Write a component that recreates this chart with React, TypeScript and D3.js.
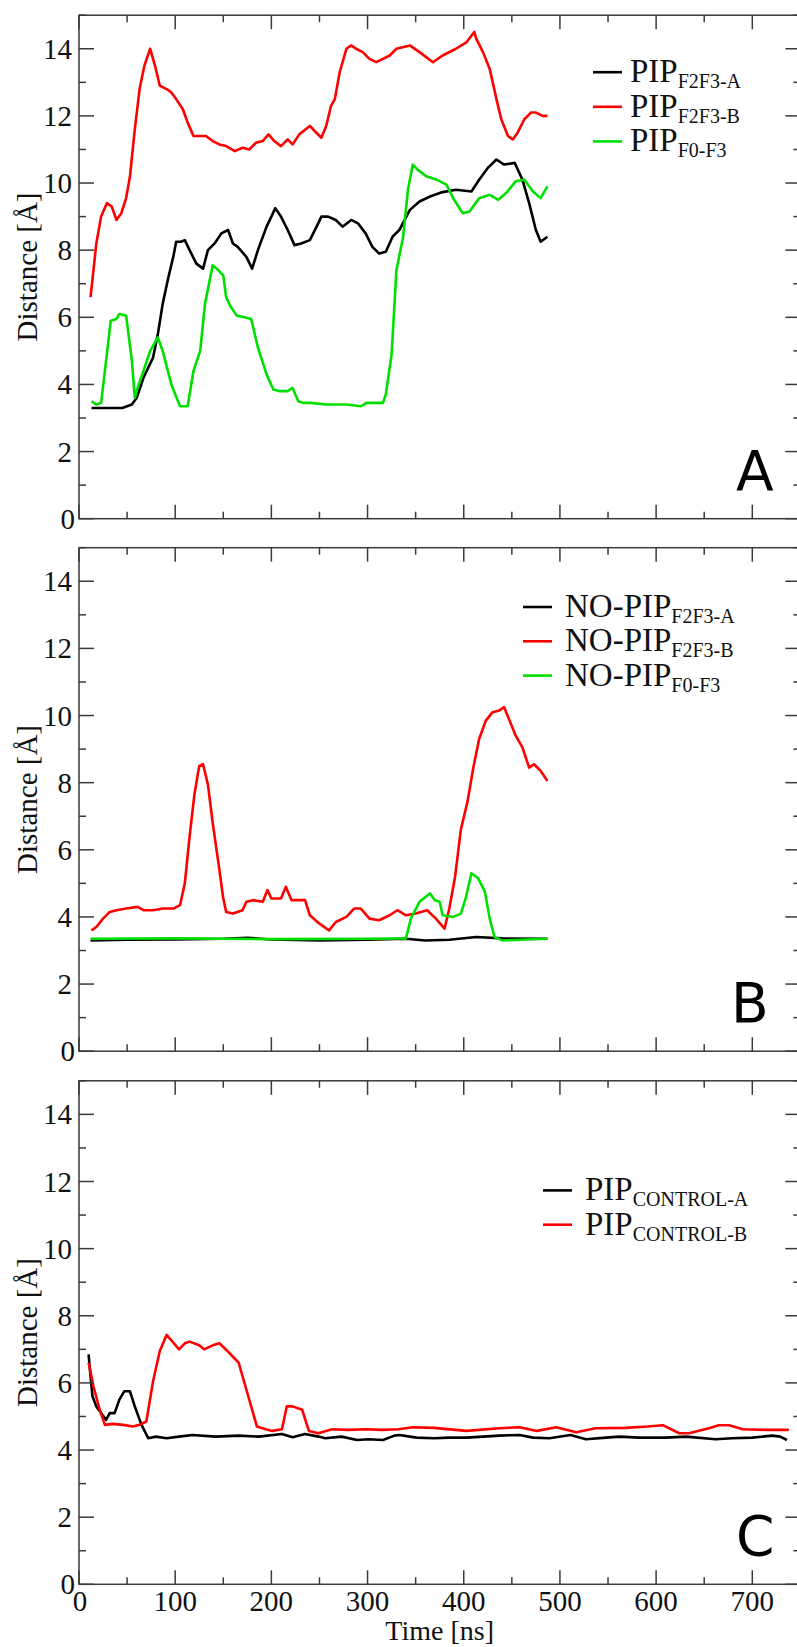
import React from 'react';
import * as d3 from 'd3';

// distance traces, [time ns, distance Å]
const pipF2F3A = [
  [13, 3.3], [30, 3.3], [45, 3.3], [55, 3.4], [60, 3.6], [67, 4.2], [77, 4.8], [82, 5.5], [87, 6.4], [93, 7.2],
  [98, 7.8], [101, 8.25], [106, 8.25], [110, 8.3], [115, 8.0], [122, 7.6], [129, 7.45], [134, 8.0], [141, 8.2],
  [148, 8.5], [155, 8.6], [160, 8.2], [165, 8.1], [174, 7.8], [180, 7.45], [186, 8.0], [195, 8.7], [200, 9.0],
  [204, 9.25], [210, 9.0], [217, 8.6], [224, 8.15], [231, 8.2], [240, 8.3], [247, 8.7], [252, 9.0], [259, 9.0],
  [267, 8.9], [274, 8.7], [283, 8.9], [290, 8.8], [298, 8.5], [305, 8.1], [312, 7.9], [319, 7.95], [326, 8.4],
  [333, 8.6], [344, 9.2], [354, 9.45], [365, 9.6], [378, 9.73], [392, 9.8], [408, 9.75], [416, 10.1], [425, 10.45],
  [434, 10.7], [442, 10.55], [453, 10.6], [461, 10.1], [468, 9.4], [475, 8.6], [480, 8.25], [487, 8.4]
];
const pipF2F3B = [
  [12, 6.6], [18, 8.2], [23, 9.0], [29, 9.4], [34, 9.3], [39, 8.9], [44, 9.1], [49, 9.55], [53, 10.2], [58, 11.6],
  [63, 12.8], [68, 13.5], [74, 14.0], [79, 13.5], [84, 12.9], [91, 12.8], [96, 12.7], [101, 12.5], [108, 12.2],
  [113, 11.8], [119, 11.4], [126, 11.4], [132, 11.4], [139, 11.25], [146, 11.15], [153, 11.1], [162, 10.95],
  [170, 11.05], [177, 11.0], [184, 11.2], [191, 11.25], [197, 11.45], [203, 11.25], [210, 11.1], [217, 11.3],
  [222, 11.15], [229, 11.45], [240, 11.7], [245, 11.55], [252, 11.35], [257, 11.7], [262, 12.3], [266, 12.5],
  [271, 13.3], [278, 14.0], [283, 14.1], [288, 14.0], [295, 13.9], [302, 13.7], [309, 13.6], [316, 13.7],
  [323, 13.8], [330, 14.0], [344, 14.1], [354, 13.9], [368, 13.6], [378, 13.8], [392, 14.0], [403, 14.2],
  [411, 14.5], [413, 14.3], [420, 13.9], [427, 13.4], [434, 12.5], [439, 11.9], [446, 11.4], [451, 11.3],
  [456, 11.5], [463, 11.9], [470, 12.1], [475, 12.1], [482, 12.0], [487, 12.0]
];
const pipF0F3 = [
  [13, 3.5], [18, 3.4], [23, 3.45], [29, 4.9], [33, 5.9], [39, 5.95], [42, 6.1], [49, 6.05], [55, 4.7], [58, 3.6],
  [61, 3.9], [67, 4.4], [74, 5.0], [82, 5.4], [87, 5.0], [96, 4.0], [105, 3.35], [113, 3.35], [119, 4.4], [126, 5.0],
  [131, 6.4], [139, 7.55], [145, 7.4], [150, 7.25], [153, 6.6], [157, 6.35], [164, 6.05], [172, 6.0], [179, 5.95],
  [186, 5.1], [195, 4.3], [202, 3.85], [209, 3.8], [217, 3.8], [222, 3.9], [228, 3.5], [233, 3.45], [241, 3.45],
  [257, 3.4], [278, 3.4], [293, 3.35], [299, 3.45], [316, 3.45], [319, 3.7], [325, 4.9], [330, 7.4], [337, 8.4],
  [342, 9.8], [347, 10.55], [352, 10.4], [361, 10.2], [372, 10.1], [382, 9.95], [390, 9.5], [399, 9.1], [406, 9.15],
  [416, 9.55], [427, 9.65], [436, 9.5], [444, 9.7], [454, 10.05], [463, 10.1], [472, 9.75], [480, 9.55], [487, 9.9]
];

const noPipF2F3A = [
  [12, 3.3], [50, 3.32], [100, 3.33], [150, 3.35], [175, 3.38], [200, 3.33], [250, 3.3], [300, 3.32], [340, 3.35],
  [360, 3.3], [385, 3.32], [413, 3.4], [440, 3.36], [487, 3.35]
];
const noPipF2F3B = [
  [13, 3.6], [18, 3.7], [25, 3.95], [32, 4.15], [39, 4.2], [49, 4.25], [61, 4.3], [67, 4.2], [77, 4.2], [87, 4.25],
  [98, 4.25], [105, 4.35], [110, 5.0], [115, 6.4], [120, 7.65], [125, 8.5], [129, 8.55], [134, 7.95], [139, 6.8],
  [145, 5.6], [150, 4.55], [153, 4.15], [160, 4.1], [170, 4.2], [174, 4.45], [181, 4.5], [191, 4.45], [196, 4.8],
  [200, 4.55], [210, 4.55], [215, 4.9], [221, 4.5], [235, 4.5], [240, 4.05], [250, 3.8], [260, 3.6], [267, 3.85],
  [278, 4.0], [286, 4.25], [293, 4.25], [302, 3.95], [312, 3.9], [323, 4.05], [331, 4.2], [340, 4.05], [350, 4.1],
  [362, 4.2], [371, 3.95], [380, 3.65], [385, 4.25], [391, 5.2], [397, 6.6], [404, 7.45], [410, 8.45], [416, 9.3],
  [423, 9.85], [430, 10.1], [437, 10.15], [442, 10.25], [447, 9.9], [454, 9.4], [461, 9.05], [468, 8.45],
  [473, 8.55], [480, 8.35], [487, 8.05]
];
const noPipF0F3 = [
  [12, 3.35], [100, 3.36], [200, 3.34], [300, 3.35], [340, 3.36], [345, 3.95], [354, 4.45], [365, 4.7], [370, 4.5],
  [375, 4.45], [378, 4.05], [389, 4.0], [397, 4.1], [402, 4.55], [408, 5.3], [415, 5.15], [422, 4.75], [427, 3.95],
  [432, 3.4], [440, 3.3], [487, 3.35]
];

const controlA = [
  [10, 6.85], [11, 6.5], [14, 5.6], [18, 5.3], [23, 5.1], [28, 4.9], [32, 5.1], [37, 5.1], [42, 5.5], [47, 5.75],
  [53, 5.75], [58, 5.3], [65, 4.75], [72, 4.35], [80, 4.4], [91, 4.35], [104, 4.4], [118, 4.45], [142, 4.4],
  [166, 4.43], [187, 4.4], [211, 4.48], [222, 4.38], [235, 4.48], [249, 4.4], [256, 4.35], [273, 4.4], [289, 4.3],
  [301, 4.32], [316, 4.3], [328, 4.43], [333, 4.45], [351, 4.37], [369, 4.35], [385, 4.37], [403, 4.37], [420, 4.4],
  [437, 4.43], [458, 4.45], [472, 4.37], [489, 4.35], [511, 4.45], [527, 4.32], [548, 4.37], [562, 4.4], [582, 4.37],
  [610, 4.37], [631, 4.4], [662, 4.32], [679, 4.35], [700, 4.37], [721, 4.43], [729, 4.4], [736, 4.3]
];
const controlB = [
  [10, 6.6], [15, 5.9], [22, 5.15], [27, 4.75], [35, 4.78], [46, 4.75], [56, 4.7], [63, 4.75], [70, 4.85], [77, 6.05],
  [84, 6.95], [91, 7.43], [96, 7.27], [104, 7.0], [110, 7.18], [115, 7.23], [125, 7.12], [130, 7.0], [139, 7.12],
  [146, 7.18], [156, 6.9], [166, 6.6], [173, 5.9], [185, 4.7], [194, 4.62], [201, 4.57], [211, 4.62], [216, 5.3],
  [222, 5.3], [232, 5.2], [239, 4.57], [249, 4.5], [263, 4.62], [280, 4.6], [298, 4.62], [315, 4.6], [332, 4.62],
  [347, 4.68], [369, 4.66], [403, 4.57], [437, 4.65], [458, 4.68], [476, 4.57], [496, 4.68], [517, 4.53], [537, 4.65],
  [568, 4.66], [591, 4.7], [607, 4.74], [624, 4.5], [634, 4.5], [655, 4.65], [665, 4.74], [676, 4.74], [690, 4.62],
  [714, 4.6], [738, 4.6]
];

const yTicks = [0, 2, 4, 6, 8, 10, 12, 14];
const xTicks = [0, 100, 200, 300, 400, 500, 600, 700];

const panels = [
  {
    letter: 'A', top: 15.2, bottom: 518.7, legend: { x1: 593, x2: 622, tx: 630, y: 72.2, dy: 34.6 },
    series: [
      { name: 'PIP', sub: 'F2F3-A', color: '#000000', data: pipF2F3A },
      { name: 'PIP', sub: 'F2F3-B', color: '#ff0000', data: pipF2F3B },
      { name: 'PIP', sub: 'F0-F3', color: '#00e000', data: pipF0F3 }
    ]
  },
  {
    letter: 'B', top: 547.7, bottom: 1051.2, legend: { x1: 523, x2: 552, tx: 565, y: 607, dy: 34.3 },
    series: [
      { name: 'NO-PIP', sub: 'F2F3-A', color: '#000000', data: noPipF2F3A },
      { name: 'NO-PIP', sub: 'F2F3-B', color: '#ff0000', data: noPipF2F3B },
      { name: 'NO-PIP', sub: 'F0-F3', color: '#00e000', data: noPipF0F3 }
    ]
  },
  {
    letter: 'C', top: 1080.8, bottom: 1584.3, legend: { x1: 543, x2: 572, tx: 585, y: 1190.4, dy: 34.3 },
    series: [
      { name: 'PIP', sub: 'CONTROL-A', color: '#000000', data: controlA },
      { name: 'PIP', sub: 'CONTROL-B', color: '#ff0000', data: controlB }
    ]
  }
];

const serif = '"Liberation Serif", "Times New Roman", serif';
const frame = '#3a3a3a';

const x = d3.scaleLinear().domain([0, 750]).range([79, 800.4]);
const left = x(0);
const right = x(750);

function Panel({ p, last }) {
  const y = d3.scaleLinear().domain([0, 15]).range([p.bottom, p.top]);
  const line = d3.line().x(d => x(d[0])).y(d => y(d[1]));
  const yMinor = d3.range(0, 16, 1);
  const xMinor = d3.range(0, 751, 50);
  return (
    <g>
      {p.series.map((s, i) => (
        <path key={i} d={line(s.data)} fill="none" stroke={s.color} strokeWidth={2.6} strokeLinejoin="round" />
      ))}
      <rect x={left} y={p.top} width={right - left} height={p.bottom - p.top} fill="none" stroke={frame} strokeWidth={1.5} />
      {yMinor.map(v => {
        const len = v % 2 === 0 ? 15 : 7;
        return (
          <g key={'y' + v} stroke={frame} strokeWidth={1.5}>
            <line x1={left} x2={left + len} y1={y(v)} y2={y(v)} />
            <line x1={right} x2={right - len} y1={y(v)} y2={y(v)} />
          </g>
        );
      })}
      {xMinor.map(v => {
        const len = v % 100 === 0 ? 14 : 7;
        return (
          <g key={'x' + v} stroke={frame} strokeWidth={1.5}>
            <line x1={x(v)} x2={x(v)} y1={p.bottom} y2={p.bottom - len} />
            <line x1={x(v)} x2={x(v)} y1={p.top} y2={p.top + len} />
          </g>
        );
      })}
      {yTicks.map(v => (
        <text key={'yl' + v} x={v === 0 ? 75 : 72} y={y(v) + 10} textAnchor="end" fontFamily={serif} fontSize={29} fill="#111">
          {v}
        </text>
      ))}
      {last && xTicks.map(v => (
        <text key={'xl' + v} x={x(v) + (v === 0 ? 1 : 0)} y={p.bottom + 27} textAnchor="middle" fontFamily={serif} fontSize={29} fill="#111">
          {v}
        </text>
      ))}
      <text
        transform={`translate(37,${(p.top + p.bottom) / 2}) rotate(-90)`}
        textAnchor="middle" fontFamily={serif} fontSize={29} fill="#111"
      >
        Distance [Å]
      </text>
      {p.series.map((s, i) => {
        const ly = p.legend.y + i * p.legend.dy;
        return (
          <g key={'lg' + i}>
            <line x1={p.legend.x1} x2={p.legend.x2} y1={ly} y2={ly} stroke={s.color} strokeWidth={2.6} />
            <text x={p.legend.tx} y={ly + 10} fontFamily={serif} fontSize={33} fill="#111">
              {s.name}
              <tspan fontSize={20} dy={6}>{s.sub}</tspan>
            </text>
          </g>
        );
      })}
      <text x={p.letter === 'B' ? 731 : 736} y={p.bottom - 29} fontFamily='"DejaVu Sans", sans-serif' fontSize={55} fill="#000">
        {p.letter}
      </text>
    </g>
  );
}

export default function App() {
  return (
    <svg width={797} height={1647} style={{ position: 'absolute', left: 0, top: 0, background: '#fff' }}>
      <rect width={797} height={1647} fill="#fff" />
      {panels.map((p, i) => (
        <Panel key={p.letter} p={p} last={i === panels.length - 1} />
      ))}
      <text x={(left + right) / 2} y={1640} textAnchor="middle" fontFamily={serif} fontSize={28} fill="#111">
        Time [ns]
      </text>
    </svg>
  );
}
